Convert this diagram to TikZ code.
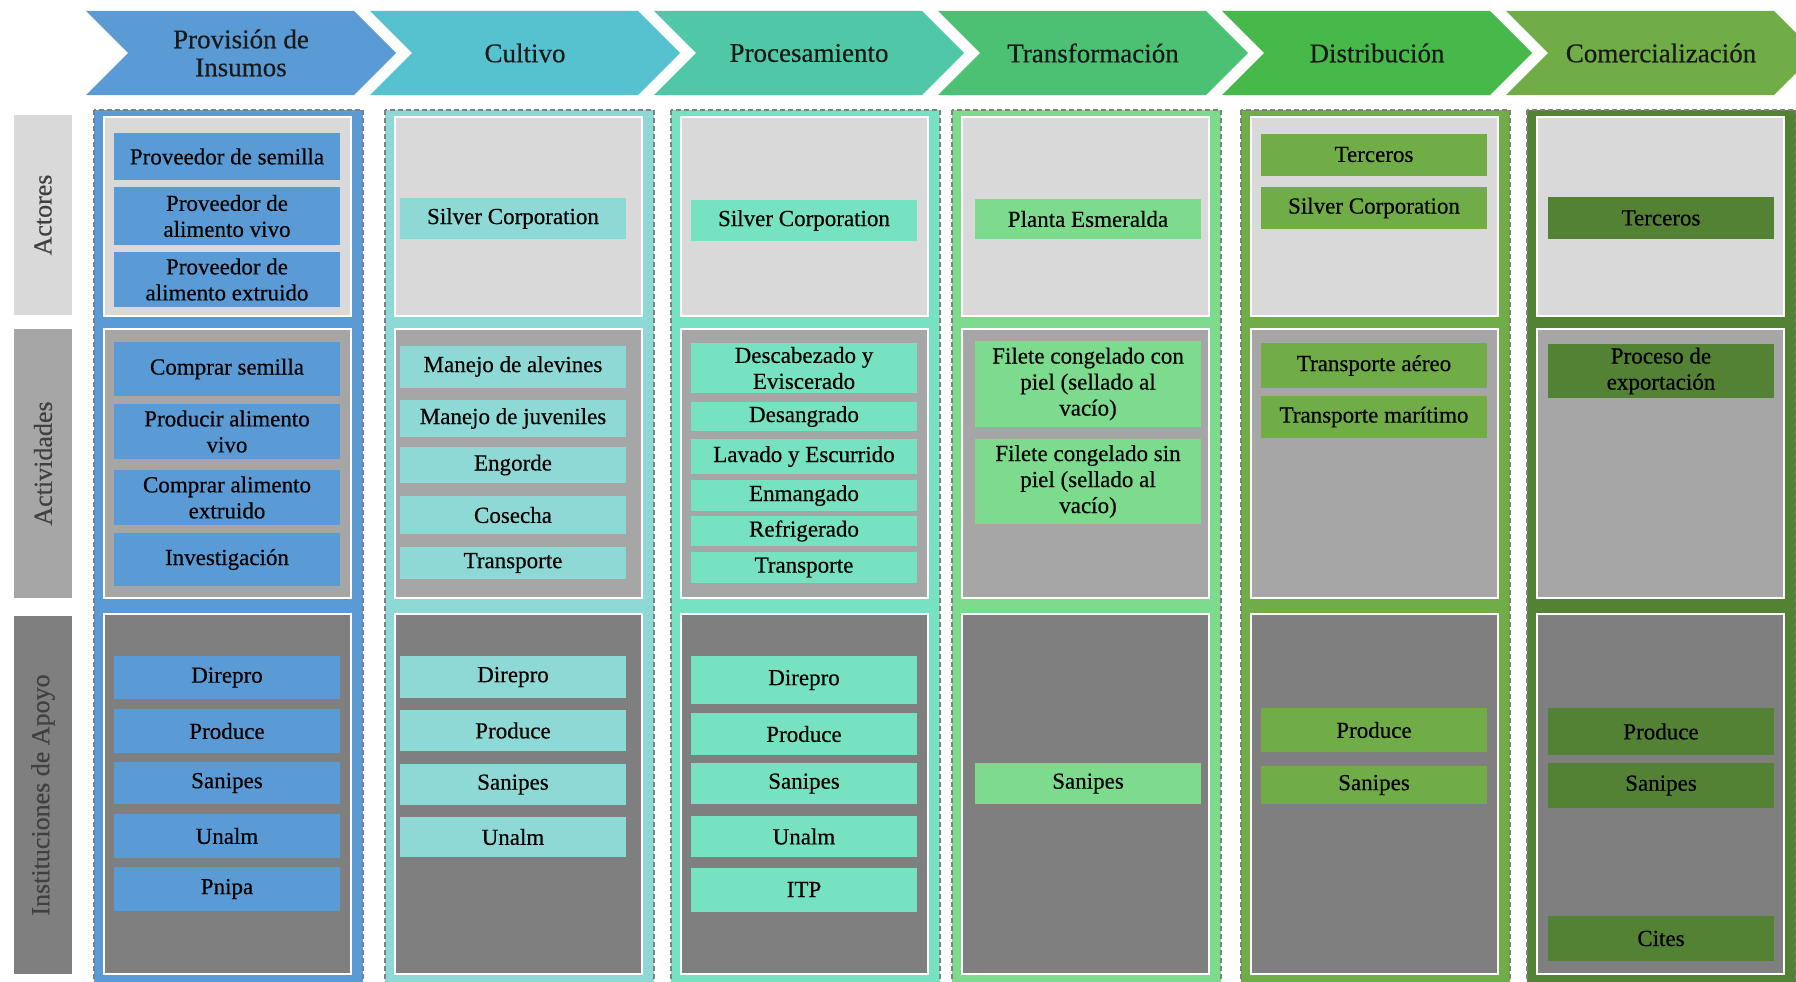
\documentclass[tikz,border=0pt]{standalone}
\usepackage{fontspec}
\setmainfont{Liberation Serif}[FakeBold=0.4]
\usepackage{tikz}

% header arrows
\definecolor{hd1}{HTML}{5B9BD5}
\definecolor{hd2}{HTML}{56C2CF}
\definecolor{hd3}{HTML}{50C7A7}
\definecolor{hd4}{HTML}{4CC173}
\definecolor{hd5}{HTML}{47B84A}
\definecolor{hd6}{HTML}{70AD47}
% lanes and their boxes
\definecolor{ln1}{HTML}{5B9BD5}
\definecolor{ln2}{HTML}{8ED9D6}
\definecolor{ln3}{HTML}{77E2C1}
\definecolor{ln4}{HTML}{7CDB8D}
\definecolor{ln5}{HTML}{70AD47}
\definecolor{ln6}{HTML}{548235}
% row panels
\definecolor{pA}{HTML}{D9D9D9}
\definecolor{pB}{HTML}{A6A6A6}
\definecolor{pC}{HTML}{7F7F7F}

\begin{document}
\begin{tikzpicture}[x=1pt,y=-1pt,
  head/.style={font=\fontsize{27}{28}\selectfont,align=center,text=black!90},
  lane/.style={draw=gray,dash pattern=on 5pt off 3pt,line width=1.4pt,fill=#1},
  panel/.style={draw=white,line width=1.8pt,fill=#1},
  rowlab/.style={fill=#1,minimum height=58,inner sep=0,rotate=90,
    font=\fontsize{26}{28}\selectfont,text=black!75},
  item/.style={fill=#1,minimum width=226,inner sep=0,align=center,
    font=\fontsize{23}{26}\selectfont}]
  \useasboundingbox (0,0) rectangle (1796,982);

  % stages
  \foreach \t [count=\i] in {{Provisión de\\Insumos},Cultivo,Procesamiento,
      Transformación,Distribución,Comercialización}
    {\pgfmathsetmacro{\L}{86+284*(\i-1)}
     \fill[hd\i] (\L,11) -- ++(268,0) -- ++(42,42) -- ++(-42,42)
       -- ++(-268,0) -- ++(42,-42) -- cycle;
     \node[head] (h\i) at (\L+155,53) {\t};}

  % lanes with their three panels
  \foreach \x [count=\i] in {94,385,671,952,1241,1527}
    {\draw[lane=ln\i] (\x,110) rectangle ++(269,880);
     \draw[panel=pA] (\x+10,117) rectangle (\x+257,316);
     \draw[panel=pB] (\x+10,329) rectangle (\x+257,598);
     \draw[panel=pC] (\x+10,614) rectangle (\x+257,974);}

  % row titles
  \node[rowlab=pA,minimum width=200] (r1) at (43,215) {Actores};
  \node[rowlab=pB,minimum width=269] (r2) at (43,463.5) {Actividades};
  \node[rowlab=pC,minimum width=358] (r3) at (43,795) {Instituciones de Apoyo};

  % Provision de insumos
  \foreach \y/\h/\t [count=\n] in {
      156.5/47/Proveedor de semilla,
      216/58/{Proveedor de\\alimento vivo},
      279.5/55/{Proveedor de\\alimento extruido},
      369/54/Comprar semilla,
      431.5/55/{Producir alimento\\vivo},
      497.5/55/{Comprar alimento\\extruido},
      559.5/53/Investigación,
      677.5/43/Direpro, 731/44/Produce, 783/42/Sanipes,
      836/44/Unalm, 889/44/Pnipa}
    \node[item=ln1,minimum height=\h] (a\n) at (227,\y) {\t};

  % Cultivo
  \foreach \y/\h/\t [count=\n] in {
      218.5/41/Silver Corporation,
      366.5/42/Manejo de alevines, 418.5/37/Manejo de juveniles,
      465/36/Engorde, 515/38/Cosecha, 563/32/Transporte,
      677/42/Direpro, 730.5/41/Produce, 784.5/41/Sanipes, 837/40/Unalm}
    \node[item=ln2,minimum height=\h] (b\n) at (513,\y) {\t};

  % Procesamiento
  \foreach \y/\h/\t [count=\n] in {
      220.5/41/Silver Corporation,
      368/50/{Descabezado y\\Eviscerado}, 416.5/29/Desangrado,
      456.5/35/Lavado y Escurrido, 495.5/31/Enmangado,
      531/30/Refrigerado, 567.5/31/Transporte,
      680/48/Direpro, 734/42/Produce, 783.5/41/Sanipes,
      836.5/41/Unalm, 889.5/44/ITP}
    \node[item=ln3,minimum height=\h] (c\n) at (804,\y) {\t};

  % Transformacion
  \foreach \y/\h/\t [count=\n] in {
      219/40/Planta Esmeralda,
      384/86/{Filete congelado con\\piel (sellado al\\vacío)},
      481.5/85/{Filete congelado sin\\piel (sellado al\\vacío)},
      783.5/41/Sanipes}
    \node[item=ln4,minimum height=\h] (d\n) at (1088,\y) {\t};

  % Distribucion
  \foreach \y/\h/\t [count=\n] in {
      154.5/42/Terceros, 208/42/Silver Corporation,
      365.5/45/Transporte aéreo, 417/42/Transporte marítimo,
      730/44/Produce, 785/38/Sanipes}
    \node[item=ln5,minimum height=\h] (e\n) at (1374,\y) {\t};

  % Comercializacion
  \foreach \y/\h/\t [count=\n] in {
      218/42/Terceros,
      371/54/{Proceso de\\exportación},
      731.5/47/Produce, 785.5/45/Sanipes, 938.5/45/Cites}
    \node[item=ln6,minimum height=\h] (f\n) at (1661,\y) {\t};
\end{tikzpicture}
\end{document}
